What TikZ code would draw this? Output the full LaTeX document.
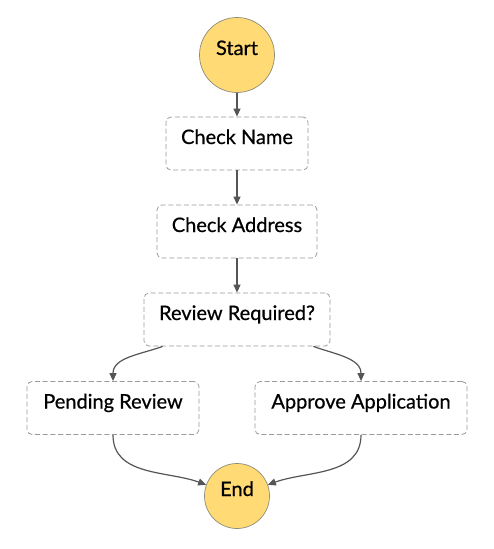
\documentclass[tikz,border=0pt]{standalone}
\usepackage{fontspec}
\setmainfont{Lato}
\newfontfamily\statefont{Lato}[FakeBold=0.6]
\usepackage{xcolor}
\usetikzlibrary{arrows.meta}
\definecolor{stategold}{HTML}{FFDA75}
\definecolor{stateedge}{HTML}{8F8A7A}
\definecolor{flowgrey}{HTML}{555555}
\definecolor{boxgrey}{HTML}{9A9A9A}

\begin{document}
\begin{tikzpicture}[x=1pt, y=1pt,    terminal/.style={circle, draw=stateedge, line width=0.7pt, fill=stategold, inner sep=0pt, text height=10pt, text depth=10pt, font=\statefont\fontsize{20}{24}\selectfont},    task/.style={draw=boxgrey, line width=0.8pt, dash pattern=on 5pt off 2.7pt, rounded corners=5pt, text height=27pt, text depth=26pt, inner ysep=0pt, inner xsep=0pt, font=\statefont\fontsize{20}{24}\selectfont}]
		% fix the page size
		\useasboundingbox (0,0) rectangle (494,-549);
		% draw the states
		\node[terminal, minimum size=75pt] (start) at (237,-55) {Start};
		\node[task, minimum width=142pt] (checkname) at (237,-143.5) {Check Name};
		\node[task, minimum width=160pt] (checkaddress) at (237,-231.5) {Check Address};
		\node[task, minimum width=186pt] (review) at (237,-319.5) {Review Required?};
		\node[task, minimum width=172pt] (pending) at (113,-408) {Pending Review};
		\node[task, minimum width=212pt] (approve) at (361,-408) {Approve Application};
		\node[terminal, minimum size=65pt] (end) at (237,-496) {End};
		% draw the transitions
		\begin{scope}[-{Triangle[length=8pt,width=7pt]}, flowgrey, line width=1.2pt]
			\draw (start) -- (checkname);
			\draw (checkname) -- (checkaddress);
			\draw (checkaddress) -- (review);
			\draw ([xshift=19pt]review.south west) to[out=200, in=90] (pending.north);
			\draw ([xshift=-17pt]review.south east) to[out=-20, in=90] (approve.north);
			\draw (pending.south) to[out=-90, in=160] (end.160);
			\draw (approve.south) to[out=-90, in=20] (end.20);
		\end{scope}
	\end{tikzpicture}
\end{document}
